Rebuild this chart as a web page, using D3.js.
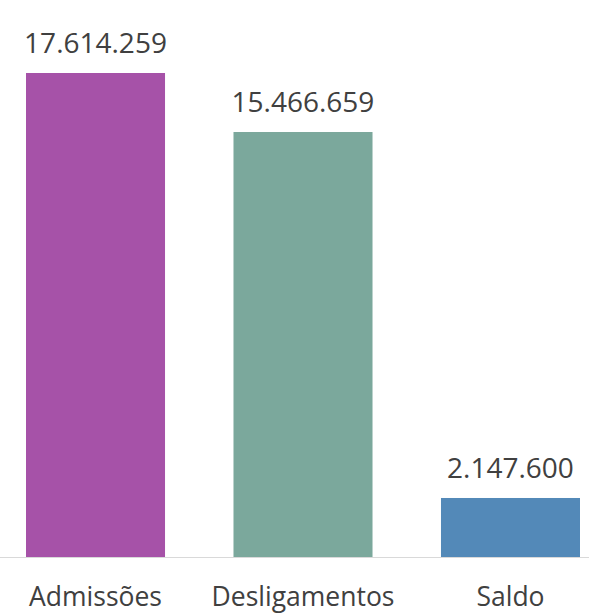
<!DOCTYPE html>
<html><head><meta charset="utf-8">
<script src="https://cdn.jsdelivr.net/npm/d3@7"></script>
<style>body{margin:0;background:#fff}svg{display:block}</style>
</head><body>
<script>
const categories = ["Admissões", "Desligamentos", "Saldo"];
const values = [17614259, 15466659, 2147600];
const valueLabels = ["17.614.259", "15.466.659", "2.147.600"];
const colors = ["#A652A8", "#7BA89C", "#5389B8"];

const W = 589, H = 613;
const svg = d3.select("body").append("svg").attr("width", W).attr("height", H);
const font = "Candara, Corbel, 'Open Sans', sans-serif";

const x = d3.scaleBand().domain(categories).range([26, 580]).paddingInner(0.33).paddingOuter(0);
const y = d3.scaleLinear().domain([0, 17614259]).range([557, 73]);

svg.selectAll("rect.bar").data(values).join("rect")
  .attr("class", "bar")
  .attr("x", (d, i) => x(categories[i]))
  .attr("y", d => y(d))
  .attr("width", x.bandwidth())
  .attr("height", d => y(0) - y(d))
  .attr("fill", (d, i) => colors[i]);

svg.append("line").attr("x1", 0).attr("x2", W).attr("y1", y(0) + 0.5).attr("y2", y(0) + 0.5)
  .attr("stroke", "#d9d9d9").attr("stroke-width", 1);

svg.selectAll("text.val").data(values).join("text")
  .attr("class", "val")
  .attr("x", (d, i) => x(categories[i]) + x.bandwidth() / 2)
  .attr("y", d => y(d) - 20)
  .attr("text-anchor", "middle")
  .attr("font-family", font).attr("font-size", 28).attr("fill", "#404040")
  .text((d, i) => valueLabels[i]);

const xAxis = svg.append("g").attr("transform", `translate(0,${y(0)})`)
  .call(d3.axisBottom(x).tickSize(0).tickPadding(0));
xAxis.select(".domain").remove();
xAxis.selectAll("text").attr("dy", 0).attr("y", 49)
  .attr("font-family", font).attr("font-size", 26.5).attr("fill", "#404040");
</script>
</body></html>
